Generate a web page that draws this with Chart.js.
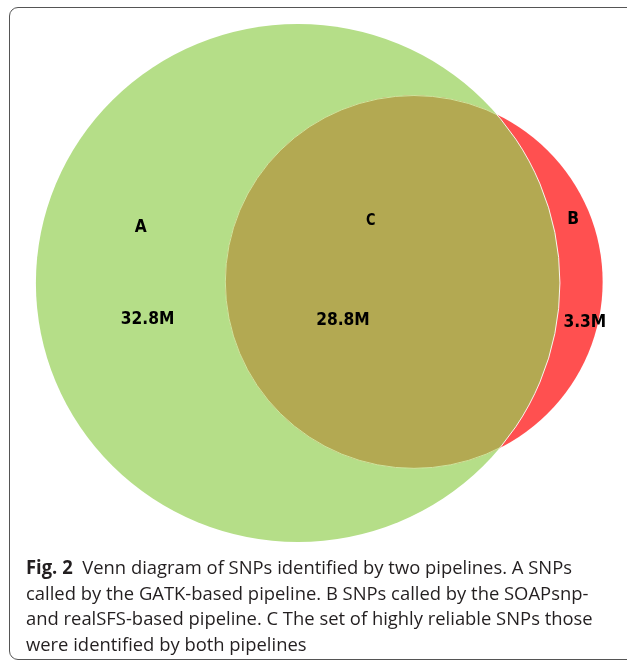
<!DOCTYPE html>
<html>
<head>
<meta charset="utf-8">
<script src="https://cdn.jsdelivr.net/npm/chart.js@4.4.1/dist/chart.umd.min.js"></script>
<style>
  html, body { margin: 0; padding: 0; width: 627px; height: 660px; overflow: hidden; background: #fff; }
  #frame { position: absolute; left: 9px; top: 7px; width: 700px; height: 651px; border: 1.5px solid #555; border-radius: 9px; }
  #venn { position: absolute; left: 0; top: 0; }
  #caption { position: absolute; left: 26px; top: 555px; font-family: "Open Sans", sans-serif; font-size: 19px; color: #231f20; white-space: nowrap; transform-origin: 0 0; }
  #caption div { height: 25.5px; line-height: 25.5px; }
  #caption span { display: inline-block; }
  #caption b { font-weight: 700; }
</style>
</head>
<body>
<div id="frame"></div>
<canvas id="venn" width="627" height="560"></canvas>
<div id="caption">
  <div><span id="l1"><b>Fig. 2</b>&nbsp; Venn diagram of SNPs identified by two pipelines. A SNPs</span></div>
  <div>called by the GATK-based pipeline. B SNPs called by the SOAPsnp-</div>
  <div>and realSFS-based pipeline. C The set of highly reliable SNPs those</div>
  <div>were identified by both pipelines</div>
</div>
<script>
// two sets, circle centres and radii in layout units (radius of A = 1)
const setNames = ['A', 'B'];
const circleX = [0, 0.443];
const circleY = [0, 0.004];
const circleR = [1, 0.72];
const setColors = ['#b5de88', '#ff5050'];
const overlapColor = '#b3a952';

// region labels: A only, B only, C = A and B
const regionNames = ['A', 'B', 'C'];
const regionSizes = ['32.8M', '3.3M', '28.8M'];
const nameX = [-0.60, 1.05, 0.278];
const nameY = [0.216, 0.247, 0.24];
const sizeX = [-0.574, 1.095, 0.172];
const sizeY = [-0.139, -0.151, -0.146];

// caption width fitted to the original layout
const cap = document.getElementById('caption');
const w1 = document.getElementById('l1').getBoundingClientRect().width;
cap.style.transform = 'scaleX(' + (546 / w1) + ')';

// elipse de cada conjunto usando las escalas
function trazo(chart, i) {
  const sx = chart.scales.x, sy = chart.scales.y;
  const p = chart.getDatasetMeta(i).data[0];
  const rx = sx.getPixelForValue(circleX[i] + circleR[i]) - p.x;
  const ry = p.y - sy.getPixelForValue(circleY[i] + circleR[i]);
  const path = new Path2D();
  path.ellipse(p.x, p.y, rx, ry, 0, 0, Math.PI * 2);
  return path;
}

// texto un poco estrecho, como en la figura original
function rotulo(ctx, txt, x, y, size) {
  ctx.save();
  ctx.translate(x, y);
  ctx.scale(0.86, 1);
  ctx.font = 'bold ' + size + 'px "DejaVu Sans"';
  ctx.fillText(txt, 0, 0);
  ctx.restore();
}

const vennPlugin = {
  id: 'venn',
  beforeDatasetsDraw(chart) {
    const ctx = chart.ctx;
    const pa = trazo(chart, 0), pb = trazo(chart, 1);
    ctx.save();
    ctx.fillStyle = setColors[0];
    ctx.fill(pa);
    ctx.fillStyle = setColors[1];
    ctx.fill(pb);

    // intersection C
    ctx.save();
    ctx.clip(pa);
    ctx.fillStyle = overlapColor;
    ctx.fill(pb);
    ctx.strokeStyle = 'rgba(205,238,165,0.9)';
    ctx.lineWidth = 1;
    ctx.stroke(pb);
    ctx.restore();

    // thin light edge of A inside B
    ctx.save();
    ctx.clip(pb);
    ctx.strokeStyle = 'rgba(255,255,255,0.9)';
    ctx.lineWidth = 1;
    ctx.stroke(pa);
    ctx.restore();
    ctx.restore();
  },
  afterDatasetsDraw(chart) {
    const ctx = chart.ctx;
    const sx = chart.scales.x, sy = chart.scales.y;
    ctx.save();
    ctx.fillStyle = '#000';
    ctx.textAlign = 'center';
    ctx.textBaseline = 'middle';
    regionNames.forEach((n, i) => {
      rotulo(ctx, n, sx.getPixelForValue(nameX[i]), sy.getPixelForValue(nameY[i]), n === 'C' ? 15 : 18);
      rotulo(ctx, regionSizes[i], sx.getPixelForValue(sizeX[i]), sy.getPixelForValue(sizeY[i]), 18);
    });
    ctx.restore();
  }
};

new Chart(document.getElementById('venn'), {
  type: 'scatter',
  data: {
    datasets: setNames.map((nome, i) => ({
      label: nome,
      data: [{ x: circleX[i], y: circleY[i] }],
      pointRadius: 0,
      backgroundColor: setColors[i]
    }))
  },
  options: {
    responsive: false,
    animation: false,
    events: [],
    layout: { padding: 0 },
    plugins: { legend: { display: false }, tooltip: { enabled: false } },
    scales: {
      x: { type: 'linear', min: -1.137, max: 1.256, display: false },
      y: { type: 'linear', min: -1.07, max: 1.093, display: false }
    }
  },
  plugins: [vennPlugin]
});
</script>
</body>
</html>
